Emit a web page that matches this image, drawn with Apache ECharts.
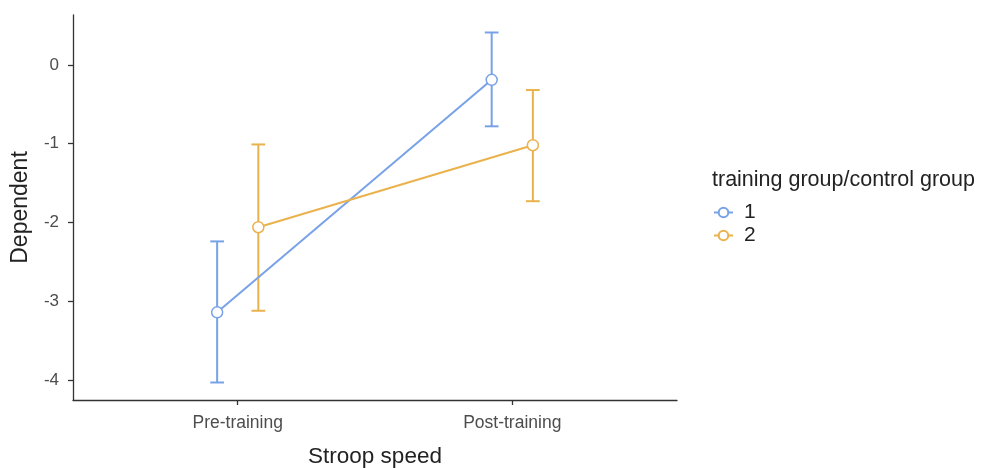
<!DOCTYPE html>
<html>
<head>
<meta charset="utf-8">
<script src="https://cdn.jsdelivr.net/npm/echarts@6/dist/echarts.min.js"></script>
<style>
html,body{margin:0;padding:0;background:#fff;}
#chart{width:987px;height:468px;}
</style>
</head>
<body>
<div id="chart"></div>
<script>
const categories = ['Pre-training', 'Post-training'];
const groupNames = ['1', '2'];
const mean1 = [-3.14, -0.19];
const lower1 = [-4.03, -0.78];
const upper1 = [-2.24, 0.41];
const mean2 = [-2.06, -1.02];
const lower2 = [-3.12, -1.73];
const upper2 = [-1.01, -0.32];
const dodge = [-0.075, 0.075];
const yTicks = [-4, -3, -2, -1, 0];

const colors = ['#78A2E8', '#EAB24C'];
const FONT = 'Liberation Sans, Arial, sans-serif';

function pts(means, g) {
  return means.map((m, i) => [i + 1 + dodge[g], m]);
}
function errs(lo, hi, g) {
  return lo.map((l, i) => [i + 1 + dodge[g], l, hi[i]]);
}
function errSeries(lo, hi, g) {
  return {
    type: 'custom',
    name: 'err' + g,
    data: errs(lo, hi, g),
    z: 1,
    silent: true,
    renderItem: function (params, api) {
      const x = api.value(0);
      const pLo = api.coord([x, api.value(1)]);
      const pHi = api.coord([x, api.value(2)]);
      const cl = api.coord([x - 0.025, api.value(1)]);
      const cr = api.coord([x + 0.025, api.value(1)]);
      const hw = (cr[0] - cl[0]) / 2;
      const style = { stroke: colors[g], lineWidth: 2, fill: null };
      return {
        type: 'group',
        children: [
          { type: 'line', shape: { x1: pLo[0], y1: pLo[1], x2: pHi[0], y2: pHi[1] }, style: style },
          { type: 'line', shape: { x1: pLo[0] - hw, y1: pLo[1], x2: pLo[0] + hw, y2: pLo[1] }, style: style },
          { type: 'line', shape: { x1: pHi[0] - hw, y1: pHi[1], x2: pHi[0] + hw, y2: pHi[1] }, style: style }
        ]
      };
    }
  };
}
function lineSeries(means, g) {
  return {
    type: 'line',
    name: groupNames[g],
    data: pts(means, g),
    z: 3,
    symbol: 'circle',
    symbolSize: 11,
    showAllSymbol: true,
    lineStyle: { color: colors[g], width: 2 },
    itemStyle: { color: '#ffffff', borderColor: colors[g], borderWidth: 1.5 },
    emphasis: { disabled: true }
  };
}

const chart = echarts.init(document.getElementById('chart'), null, { renderer: 'canvas' });
chart.setOption({
  animation: false,
  backgroundColor: '#ffffff',
  textStyle: { fontFamily: FONT },
  title: {
    text: 'training group/control group',
    left: 712,
    top: 169,
    padding: 0,
    textStyle: { fontFamily: FONT, fontSize: 21.5, fontWeight: 'normal', color: '#222222' }
  },
  legend: {
    data: groupNames,
    orient: 'vertical',
    left: 708,
    top: 197,
    itemWidth: 19,
    itemHeight: 12,
    itemGap: 2,
    textStyle: { fontFamily: FONT, fontSize: 21, color: '#222222', padding: [0, 0, 0, 6] },
    selectedMode: false
  },
  grid: { left: 73, top: 15, right: 310, bottom: 68, containLabel: false, outerBoundsMode: 'none' },
  xAxis: {
    type: 'value',
    min: 0.4,
    max: 2.6,
    name: 'Stroop speed',
    nameLocation: 'middle',
    nameGap: 45,
    nameTextStyle: { fontFamily: FONT, fontSize: 22.5, color: '#222222' },
    axisLine: { show: true, onZero: false, lineStyle: { color: '#333333', width: 1.3 } },
    axisTick: { show: true, length: 5, lineStyle: { color: '#333333', width: 1.3 }, customValues: [1, 2] },
    axisLabel: {
      customValues: [1, 2],
      formatter: function (v) { return categories[Math.round(v) - 1] || ''; },
      fontFamily: FONT, fontSize: 17.5, color: '#4d4d4d', margin: 14
    },
    splitLine: { show: false }
  },
  yAxis: {
    type: 'value',
    min: -4.252,
    max: 0.632,
    name: 'Dependent',
    nameLocation: 'middle',
    nameGap: 41,
    nameRotate: 90,
    nameTextStyle: { fontFamily: FONT, fontSize: 23, color: '#222222' },
    axisLine: { show: true, onZero: false, lineStyle: { color: '#333333', width: 1.3 } },
    axisTick: { show: true, length: 5, lineStyle: { color: '#333333', width: 1.3 }, customValues: yTicks },
    axisLabel: {
      customValues: yTicks,
      fontFamily: FONT, fontSize: 17, color: '#4d4d4d', margin: 14
    },
    splitLine: { show: false }
  },
  series: [
    errSeries(lower1, upper1, 0),
    errSeries(lower2, upper2, 1),
    lineSeries(mean1, 0),
    lineSeries(mean2, 1)
  ]
});
</script>
</body>
</html>
